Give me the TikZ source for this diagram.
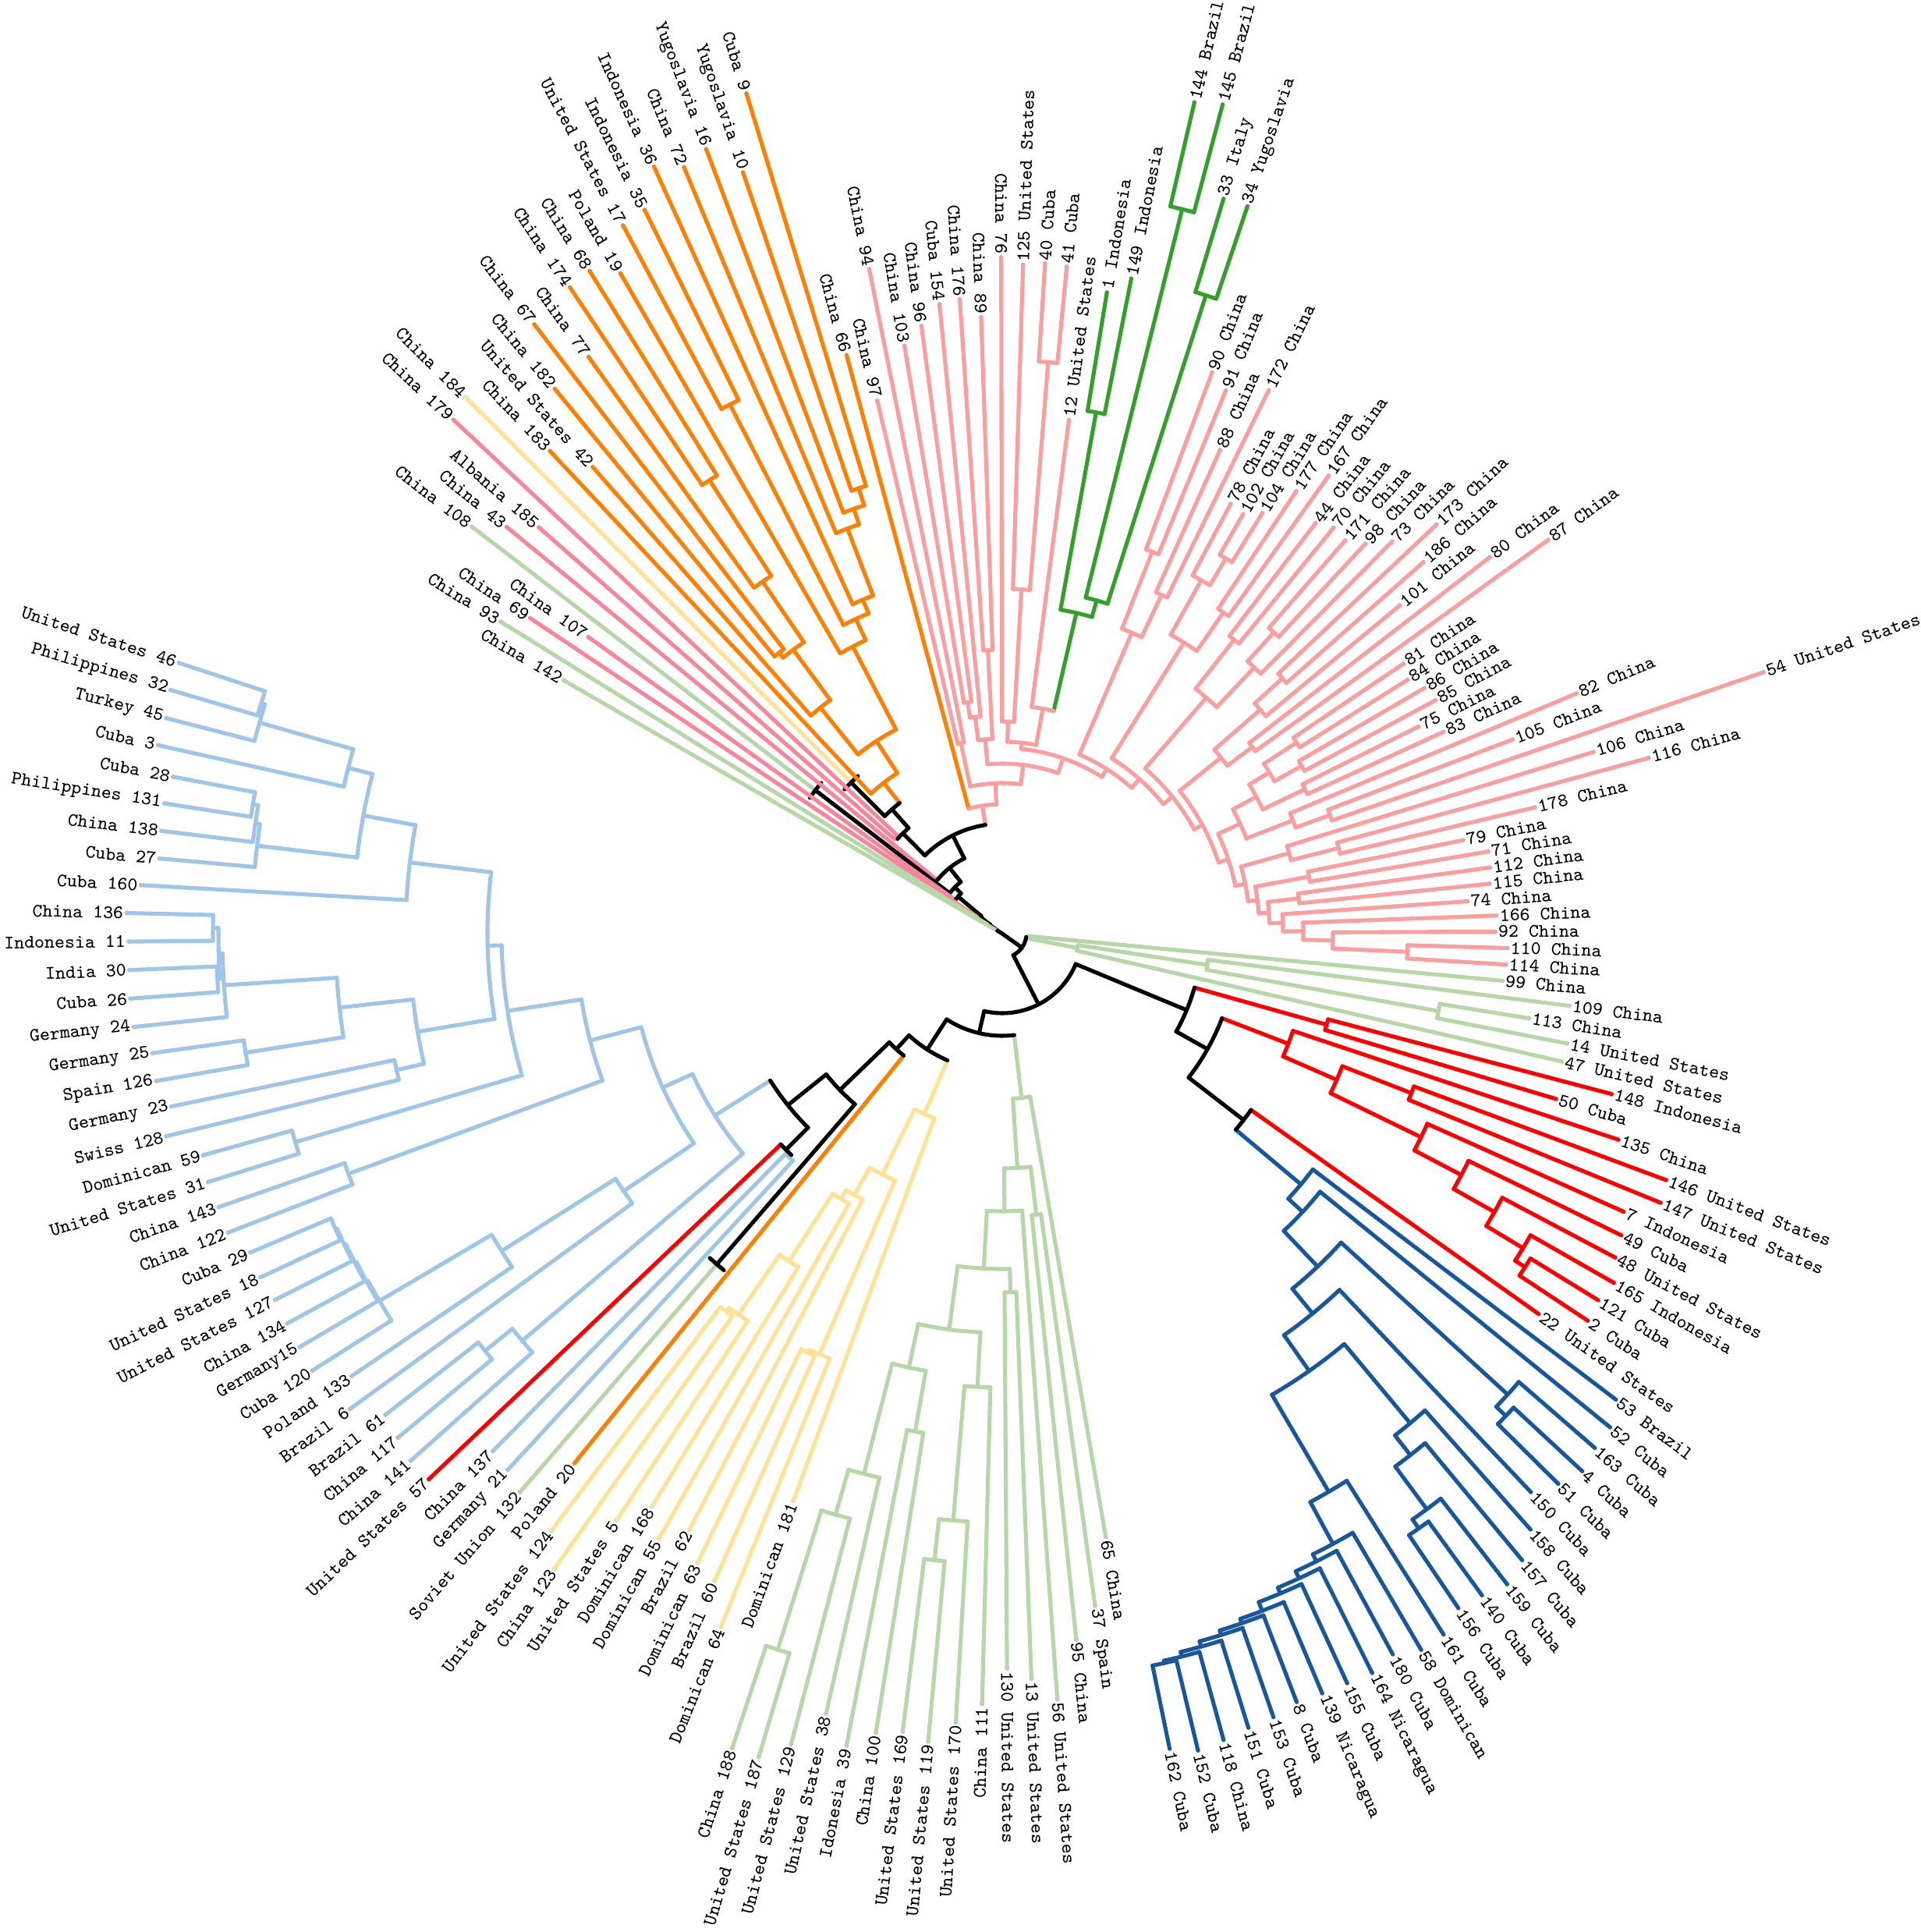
\documentclass[tikz,border=0pt]{standalone}
\usepackage{tikz}
\definecolor{lblue}{RGB}{159,197,232}
\definecolor{dblue}{RGB}{24,87,155}
\definecolor{lgreen}{RGB}{182,215,168}
\definecolor{dgreen}{RGB}{51,160,44}
\definecolor{lpink}{RGB}{251,158,158}
\definecolor{dpink}{RGB}{246,134,155}
\definecolor{lred}{RGB}{255,0,0}
\definecolor{lorange}{RGB}{255,127,0}
\definecolor{lyellow}{RGB}{255,226,150}
\tikzset{br/.style={line width=1.45pt,line cap=round},
  lbl/.style={font=\fontsize{6.95}{8}\selectfont\ttfamily,inner sep=0pt},
  tipdot/.style={fill=black!35}}

% leaf: index, tip radius (px), colour, label
\newcommand\lf[4]{%
  \pgfmathsetmacro\dgLA{161.8+(#1-1)*1.872}%
  \expandafter\xdef\csname AL#1\endcsname{\dgLA}%
  \expandafter\xdef\csname RL#1\endcsname{#2}%
  \expandafter\xdef\csname CL#1\endcsname{#3}%
  \pgfmathsetmacro\dgRT{#2/10}%
  \pgfmathsetmacro\dgRL{#2/10+0.35}%
  \pgfmathsetmacro\dgNA{mod(\dgLA,360)}%
  \pgfmathtruncatemacro\dgIL{and(\dgNA>90,\dgNA<270)}%
  \fill[tipdot] (\dgLA:\dgRT mm) circle (0.28mm);%
  \ifnum\dgIL=1
    \pgfmathsetmacro\dgRO{\dgNA-180}%
    \node[lbl,anchor=east,rotate=\dgRO] at (\dgLA:\dgRL mm) {#4};%
  \else
    \node[lbl,anchor=west,rotate=\dgNA] at (\dgLA:\dgRL mm) {#4};%
  \fi}
% leaf whose stem stays black up to a break radius
\newcommand\lfb[5]{%
  \lf{#1}{#2}{#3}{#4}%
  \pgfmathsetmacro\dgRB{#5/10}%
  \draw[br,draw=#3] (\dgLA:\dgRB mm) -- (\dgLA:\dgRT mm);%
  \pgfmathsetmacro\dgTA{\dgLA-687/#5}\pgfmathsetmacro\dgTB{\dgLA+687/#5}%
  \draw[br,black] (\dgTA:\dgRB mm) arc[start angle=\dgTA,end angle=\dgTB,radius=\dgRB mm];%
  \expandafter\xdef\csname RL#1\endcsname{#5}%
  \expandafter\xdef\csname CL#1\endcsname{black}}
% inner node: name, radius (px), child, child, colour
\newcommand\nd[5]{%
  \edef\dgA{\csname A#3\endcsname}\edef\dgB{\csname A#4\endcsname}%
  \edef\dgCA{\csname C#3\endcsname}\edef\dgCB{\csname C#4\endcsname}%
  \pgfmathsetmacro\dgRN{#2/10}%
  \pgfmathsetmacro\dgRX{\csname R#3\endcsname/10}%
  \pgfmathsetmacro\dgRY{\csname R#4\endcsname/10}%
  \pgfmathsetmacro\dgM{(\dgA+\dgB)/2}%
  \draw[br,draw=\dgCA] (\dgA:\dgRN mm) -- (\dgA:\dgRX mm);%
  \draw[br,draw=\dgCB] (\dgB:\dgRN mm) -- (\dgB:\dgRY mm);%
  \draw[br,draw=#5] (\dgA:\dgRN mm) arc[start angle=\dgA,end angle=\dgB,radius=\dgRN mm];%
  \expandafter\xdef\csname A#1\endcsname{\dgM}%
  \expandafter\xdef\csname R#1\endcsname{#2}%
  \expandafter\xdef\csname C#1\endcsname{#5}}
\newcommand\rootnd[2]{%
  \pgfmathsetmacro\dgRX{\csname R#1\endcsname/10}%
  \pgfmathsetmacro\dgRY{\csname R#2\endcsname/10}%
  \draw[br,black] (\csname A#1\endcsname:\dgRX mm) -- (0,0) -- (\csname A#2\endcsname:\dgRY mm);}

\begin{document}
\begin{tikzpicture}
%%%%% frame %%%%%
\fill[white] (-128.5mm,-128mm) rectangle (117.7mm,119.7mm);
\useasboundingbox (-128.5mm,-128mm) rectangle (117.7mm,119.7mm);

%%%%% leaves %%%%%
\lf{1}{1111}{lblue}{United States 46}
\lf{2}{1111}{lblue}{Philippines 32}
\lf{3}{1107}{lblue}{Turkey 45}
\lf{4}{1109}{lblue}{Cuba 3}
\lf{5}{1082}{lblue}{Cuba 28}
\lf{6}{1087}{lblue}{Philippines 131}
\lf{7}{1086}{lblue}{China 138}
\lf{8}{1085}{lblue}{Cuba 27}
\lf{9}{1106}{lblue}{Cuba 160}
\lf{10}{1123}{lblue}{China 136}
\lf{11}{1120}{lblue}{Indonesia 11}
\lf{12}{1120}{lblue}{India 30}
\lf{13}{1121}{lblue}{Cuba 26}
\lf{14}{1120}{lblue}{Germany 24}
\lf{15}{1100}{lblue}{Germany 25}
\lf{16}{1101}{lblue}{Spain 126}
\lf{17}{1088}{lblue}{Germany 23}
\lf{18}{1103}{lblue}{Swiss 128}
\lf{19}{1063}{lblue}{Dominican 59}
\lf{20}{1067}{lblue}{United States 31}
\lf{21}{1064}{lblue}{China 143}
\lf{22}{1064}{lblue}{China 122}
\lf{23}{1047}{lblue}{Cuba 29}
\lf{24}{1048}{lblue}{United States 18}
\lf{25}{1044}{lblue}{United States 127}
\lf{26}{1044}{lblue}{China 134}
\lf{27}{1045}{lblue}{Germany15}
\lf{28}{1047}{lblue}{Cuba 120}
\lf{29}{1009}{lblue}{Poland 133}
\lf{30}{1035}{lblue}{Brazil 6}
\lf{31}{1003}{lblue}{Brazil 61}
\lf{32}{1009}{lblue}{China 117}
\lf{33}{1016}{lblue}{China 141}
\lf{34}{1015}{lred}{United States 57}
\lf{35}{931}{lblue}{China 137}
\lf{36}{935}{lblue}{Germany 21}
\lfb{37}{946}{lgreen}{Soviet Union 132}{560}
\lf{38}{873}{lorange}{Poland 20}
\lf{39}{959}{lyellow}{United States 124}
\lf{40}{996}{lyellow}{China 123}
\lf{41}{900}{lyellow}{United States 5}
\lf{42}{861}{lyellow}{Dominican 168}
\lf{43}{892}{lyellow}{Dominican 55}
\lf{44}{863}{lyellow}{Brazil 62}
\lf{45}{896}{lyellow}{Dominican 63}
\lf{46}{908}{lyellow}{Brazil 60}
\lf{47}{959}{lyellow}{Dominican 64}
\lf{48}{775}{lyellow}{Dominican 181}
\lf{49}{1100}{lgreen}{China 188}
\lf{50}{1101}{lgreen}{United States 187}
\lf{51}{1074}{lgreen}{United States 129}
\lf{52}{1025}{lgreen}{United States 38}
\lf{53}{1060}{lgreen}{Idonesia 39}
\lf{54}{1037}{lgreen}{China 100}
\lf{55}{1031}{lgreen}{United States 169}
\lf{56}{1040}{lgreen}{United States 119}
\lf{57}{1013}{lgreen}{United States 170}
\lf{58}{988}{lgreen}{China 111}
\lf{59}{942}{lgreen}{130 United States}
\lf{60}{956}{lgreen}{13 United States}
\lf{61}{984}{lgreen}{56 United States}
\lf{62}{910}{lgreen}{95 China}
\lf{63}{870}{lgreen}{37 Spain}
\lf{64}{785}{lgreen}{65 China}
\lf{65}{1067}{dblue}{162 Cuba}
\lf{66}{1077}{dblue}{152 Cuba}
\lf{67}{1072}{dblue}{118 China}
\lf{68}{1066}{dblue}{151 Cuba}
\lf{69}{1063}{dblue}{153 Cuba}
\lf{70}{1055}{dblue}{8 Cuba}
\lf{71}{1057}{dblue}{139 Nicaragua}
\lf{72}{1058}{dblue}{155 Cuba}
\lf{73}{1060}{dblue}{164 Nicaragua}
\lf{74}{1051}{dblue}{180 Cuba}
\lf{75}{1064}{dblue}{58 Dominican}
\lf{76}{1062}{dblue}{161 Cuba}
\lf{77}{1044}{dblue}{156 Cuba}
\lf{78}{1048}{dblue}{140 Cuba}
\lf{79}{1056}{dblue}{159 Cuba}
\lf{80}{1044}{dblue}{157 Cuba}
\lf{81}{1021}{dblue}{158 Cuba}
\lf{82}{986}{dblue}{150 Cuba}
\lf{83}{1003}{dblue}{51 Cuba}
\lf{84}{1014}{dblue}{4 Cuba}
\lf{85}{1006}{dblue}{163 Cuba}
\lf{86}{1004}{dblue}{52 Cuba}
\lf{87}{988}{dblue}{53 Brazil}
\lf{88}{843}{lred}{22 United States}
\lf{89}{900}{lred}{2 Cuba}
\lf{90}{897}{lred}{121 Cuba}
\lf{91}{903}{lred}{165 Indonesia}
\lf{92}{889}{lred}{48 United States}
\lf{93}{883}{lred}{49 Cuba}
\lf{94}{873}{lred}{7 Indonesia}
\lf{95}{912}{lred}{147 United States}
\lf{96}{908}{lred}{146 United States}
\lf{97}{833}{lred}{135 China}
\lf{98}{741}{lred}{50 Cuba}
\lf{99}{808}{lred}{148 Indonesia}
\lf{100}{736}{lgreen}{47 United States}
\lf{101}{738}{lgreen}{14 United States}
\lf{102}{684}{lgreen}{113 China}
\lf{103}{733}{lgreen}{109 China}
\lf{104}{644}{lgreen}{99 China}
\lf{105}{647}{lpink}{114 China}
\lf{106}{648}{lpink}{110 China}
\lf{107}{632}{lpink}{92 China}
\lf{108}{634}{lpink}{166 China}
\lf{109}{598}{lpink}{74 China}
\lf{110}{628}{lpink}{115 China}
\lf{111}{631}{lpink}{112 China}
\lf{112}{632}{lpink}{71 China}
\lf{113}{603}{lpink}{79 China}
\lf{114}{702}{lpink}{178 China}
\lf{115}{859}{lpink}{116 China}
\lf{116}{793}{lpink}{106 China}
\lf{117}{1032}{lpink}{54 United States}
\lf{118}{700}{lpink}{105 China}
\lf{119}{798}{lpink}{82 China}
\lf{120}{622}{lpink}{83 China}
\lf{121}{596}{lpink}{75 China}
\lf{122}{631}{lpink}{85 China}
\lf{123}{626}{lpink}{86 China}
\lf{124}{613}{lpink}{84 China}
\lf{125}{620}{lpink}{81 China}
\lf{126}{863}{lpink}{87 China}
\lf{127}{790}{lpink}{80 China}
\lf{128}{661}{lpink}{101 China}
\lf{129}{720}{lpink}{186 China}
\lf{130}{765}{lpink}{173 China}
\lf{131}{709}{lpink}{73 China}
\lf{132}{683}{lpink}{98 China}
\lf{133}{669}{lpink}{171 China}
\lf{134}{672}{lpink}{70 China}
\lf{135}{662}{lpink}{44 China}
\lf{136}{721}{lpink}{167 China}
\lf{137}{681}{lpink}{177 China}
\lf{138}{634}{lpink}{104 China}
\lf{139}{620}{lpink}{102 China}
\lf{140}{624}{lpink}{78 China}
\lf{141}{776}{lpink}{172 China}
\lf{142}{680}{lpink}{88 China}
\lf{143}{753}{lpink}{91 China}
\lf{144}{768}{lpink}{90 China}
\lf{145}{984}{dgreen}{34 Yugoslavia}
\lf{146}{984}{dgreen}{33 Italy}
\lf{147}{1100}{dgreen}{145 Brazil}
\lf{148}{1094}{dgreen}{144 Brazil}
\lf{149}{856}{dgreen}{149 Indonesia}
\lf{150}{833}{dgreen}{1 Indonesia}
\lf{151}{664}{lpink}{12 United States}
\lf{152}{859}{lpink}{41 Cuba}
\lf{153}{861}{lpink}{40 Cuba}
\lf{154}{858}{lpink}{125 United States}
\lf{155}{867}{lpink}{China 76}
\lf{156}{791}{lpink}{China 89}
\lf{157}{815}{lpink}{China 176}
\lf{158}{811}{lpink}{Cuba 154}
\lf{159}{786}{lpink}{China 96}
\lf{160}{764}{lpink}{China 103}
\lf{161}{869}{lpink}{China 94}
\lf{162}{702}{lpink}{China 97}
\lf{163}{768}{lorange}{China 66}
\lf{164}{1126}{lorange}{Cuba 9}
\lf{165}{1031}{lorange}{Yugoslavia 10}
\lf{166}{1075}{lorange}{Yugoslavia 16}
\lf{167}{1064}{lorange}{China 72}
\lf{168}{1080}{lorange}{Indonesia 36}
\lf{169}{1035}{lorange}{Indonesia 35}
\lf{170}{1030}{lorange}{United States 17}
\lf{171}{978}{lorange}{Poland 19}
\lf{172}{1001}{lorange}{China 68}
\lf{173}{997}{lorange}{China 174}
\lf{174}{910}{lorange}{China 77}
\lf{175}{985}{lorange}{China 67}
\lf{176}{904}{lorange}{China 182}
\lf{177}{796}{lorange}{United States 42}
\lf{178}{848}{lorange}{China 183}
\lfb{179}{973}{lyellow}{China 184}{274}
\lf{180}{964}{dpink}{China 179}
\lf{181}{790}{dpink}{Albania 185}
\lf{182}{822}{dpink}{China 43}
\lfb{183}{857}{lgreen}{China 108}{302}
\lf{184}{653}{dpink}{China 107}
\lf{185}{728}{dpink}{China 69}
\lf{186}{757}{lgreen}{China 93}
\lf{187}{649}{lgreen}{China 142}

%%%%% light blue %%%%%
\nd{n1}{995}{L1}{L2}{lblue}
\nd{n2}{990}{n1}{L3}{lblue}
\nd{n3}{865}{n2}{L4}{lblue}
\nd{a5}{975}{L5}{L6}{lblue}
\nd{b5}{968}{a5}{L7}{lblue}
\nd{n4}{962}{b5}{L8}{lblue}
\nd{n5}{833}{n3}{n4}{lblue}
\nd{n6}{765}{n5}{L9}{lblue}
\nd{p10}{1012}{L10}{L11}{lblue}
\nd{q12}{1008}{L12}{L13}{lblue}
\nd{s10}{1005}{p10}{q12}{lblue}
\nd{g1}{1000}{s10}{L14}{lblue}
\nd{g2}{982}{L15}{L16}{lblue}
\nd{g3}{855}{g1}{g2}{lblue}
\nd{g4}{796}{L17}{L18}{lblue}
\nd{g5}{760}{g3}{g4}{lblue}
\nd{n7}{660}{n6}{g5}{lblue}
\nd{g6}{945}{L19}{L20}{lblue}
\nd{n8}{642}{n7}{g6}{lblue}
\nd{g7}{893}{L21}{L22}{lblue}
\nd{n9}{546}{n8}{g7}{lblue}
\nd{c1}{935}{L23}{L24}{lblue}
\nd{c2}{933}{c1}{L25}{lblue}
\nd{c3}{931}{c2}{L26}{lblue}
\nd{c4}{929}{c3}{L27}{lblue}
\nd{g8}{927}{c4}{L28}{lblue}
\nd{n10}{760}{g8}{L29}{lblue}
\nd{n11}{587}{n10}{L30}{lblue}
\nd{n12}{478}{n9}{n11}{lblue}
\nd{g9}{852}{L31}{L32}{lblue}
\nd{g10}{807}{g9}{L33}{lblue}
\nd{n13}{436}{n12}{g10}{lblue}
\nd{yb}{396}{L35}{L36}{lblue}
\nd{xb}{392}{L34}{yb}{black}
\nd{zb}{352}{n13}{xb}{black}
\nd{ra3}{289}{zb}{L37}{black}
\nd{ra2}{201}{ra3}{L38}{black}

%%%%% yellow %%%%%
\nd{y10}{600}{L39}{L40}{lyellow}
\nd{y9}{594}{y10}{L41}{lyellow}
\nd{y8}{501}{y9}{L42}{lyellow}
\nd{y6}{398}{y8}{L43}{lyellow}
\nd{y5}{592}{L45}{L46}{lyellow}
\nd{y4}{588}{y5}{L47}{lyellow}
\nd{y3}{385}{y6}{L44}{lyellow}
\nd{y1}{345}{y3}{y4}{lyellow}
\nd{y0}{252}{y1}{L48}{lyellow}
\nd{ra1}{177}{ra2}{y0}{black}

%%%%% green, bottom %%%%%
\nd{gb14}{962}{L49}{L50}{lgreen}
\nd{gb13}{775}{gb14}{L51}{lgreen}
\nd{gb11}{715}{gb13}{L52}{lgreen}
\nd{gb12}{648}{L53}{L54}{lgreen}
\nd{gb7}{569}{gb11}{gb12}{lgreen}
\nd{gb10}{808}{L55}{L56}{lgreen}
\nd{gb9}{755}{gb10}{L57}{lgreen}
\nd{gb8}{582}{gb9}{L58}{lgreen}
\nd{gb5}{512}{gb7}{gb8}{lgreen}
\nd{gb6}{460}{L59}{L60}{lgreen}
\nd{gb4}{430}{gb5}{gb6}{lgreen}
\nd{gb2}{356}{gb4}{L61}{lgreen}
\nd{gb3}{363}{L62}{L63}{lgreen}
\nd{gb1}{301}{gb2}{gb3}{lgreen}
\nd{gb}{212}{gb1}{L64}{lgreen}
\nd{ra}{131}{ra1}{gb}{black}

%%%%% dark blue %%%%%
\nd{d9}{958}{L65}{L66}{dblue}
\nd{d8}{955}{d9}{L67}{dblue}
\nd{d7}{949}{d8}{L68}{dblue}
\nd{d6}{942}{d7}{L69}{dblue}
\nd{d5}{936}{d6}{L70}{dblue}
\nd{d4}{930}{d5}{L71}{dblue}
\nd{d3}{918}{d4}{L72}{dblue}
\nd{d2}{910}{d3}{L73}{dblue}
\nd{d1}{900}{d2}{L74}{dblue}
\nd{bn12}{890}{d1}{L75}{dblue}
\nd{bn10}{829}{bn12}{L76}{dblue}
\nd{bn9d}{931}{L77}{L78}{dblue}
\nd{bn9c}{917}{bn9d}{L79}{dblue}
\nd{bn9b}{849}{bn9c}{L80}{dblue}
\nd{bn9}{817}{bn9b}{L81}{dblue}
\nd{bn8}{685}{bn10}{bn9}{dblue}
\nd{bn6}{629}{bn8}{L82}{dblue}
\nd{bn5b}{894}{L83}{L84}{dblue}
\nd{bn5}{877}{bn5b}{L85}{dblue}
\nd{bn4}{588}{bn6}{bn5}{dblue}
\nd{bn2}{525}{bn4}{L86}{dblue}
\nd{bn1}{500}{bn2}{L87}{dblue}

%%%%% red %%%%%
\nd{re}{391}{bn1}{L88}{black}
\nd{rh}{795}{L89}{L90}{lred}
\nd{rg}{780}{rh}{L91}{lred}
\nd{rf}{725}{rg}{L92}{lred}
\nd{ree}{665}{rf}{L93}{lred}
\nd{rd}{597}{ree}{L94}{lred}
\nd{rc}{563}{L95}{L96}{lred}
\nd{rb}{468}{rd}{rc}{lred}
\nd{redb}{393}{rb}{L97}{lred}
\nd{rcc}{302}{re}{redb}{black}
\nd{raa}{432}{L98}{L99}{lred}
\nd{rbb}{256}{rcc}{raa}{black}
\nd{r1}{102}{ra}{rbb}{black}

%%%%% green, right %%%%%
\nd{gj}{568}{L101}{L102}{lgreen}
\nd{gk}{266}{gj}{L103}{lgreen}
\nd{g1r}{98}{L100}{gk}{lgreen}
\nd{gr}{34}{g1r}{L104}{lgreen}
\nd{r0}{31}{r1}{gr}{black}

%%%%% pink, right %%%%%
\nd{j1}{520}{L105}{L106}{lpink}
\nd{j2}{424}{j1}{L107}{lpink}
\nd{j3}{386}{j2}{L108}{lpink}
\nd{j4}{360}{j3}{L109}{lpink}
\nd{k1}{383}{L110}{L111}{lpink}
\nd{j5}{343}{j4}{k1}{lpink}
\nd{k2}{400}{L112}{L113}{lpink}
\nd{j6}{330}{j5}{k2}{lpink}
\nd{k3}{445}{L114}{L115}{lpink}
\nd{k4}{382}{k3}{L116}{lpink}
\nd{j7}{318}{j6}{k4}{lpink}
\nd{m1}{447}{L117}{L118}{lpink}
\nd{m2}{400}{m1}{L119}{lpink}
\nd{m3}{430}{L120}{L121}{lpink}
\nd{m4}{440}{L122}{L123}{lpink}
\nd{m5}{450}{L124}{L125}{lpink}
\nd{m6}{400}{m4}{m5}{lpink}
\nd{m7}{370}{m3}{m6}{lpink}
\nd{m8}{336}{m2}{m7}{lpink}
\nd{x4}{305}{j7}{m8}{lpink}
\nd{u8}{400}{L126}{L127}{lpink}
\nd{u3}{486}{L129}{L130}{lpink}
\nd{u4}{438}{L128}{u3}{lpink}
\nd{bk4}{360}{u8}{u4}{lpink}
\nd{x3}{292}{x4}{bk4}{lpink}
\nd{u5}{520}{L132}{L133}{lpink}
\nd{u6}{470}{L131}{u5}{lpink}
\nd{u2}{480}{L134}{L135}{lpink}
\nd{bk3}{400}{u6}{u2}{lpink}
\nd{x2}{280}{x3}{bk3}{lpink}
\nd{u11}{500}{L136}{L137}{lpink}
\nd{u12}{560}{L138}{L139}{lpink}
\nd{u13}{520}{u12}{L140}{lpink}
\nd{bk2}{440}{u11}{u13}{lpink}
\nd{x1}{265}{x2}{bk2}{lpink}
\nd{u15}{480}{L141}{L142}{lpink}
\nd{u1}{526}{L143}{L144}{lpink}
\nd{bk1}{420}{u15}{u1}{lpink}
\nd{pr}{250}{x1}{bk1}{lpink}

%%%%% dark green, pink top %%%%%
\nd{gd3}{957}{L147}{L148}{dgreen}
\nd{gd4}{859}{L145}{L146}{dgreen}
\nd{gd2}{444}{gd4}{gd3}{dgreen}
\nd{gd1}{679}{L149}{L150}{dgreen}
\nd{gdr}{422}{gd2}{gd1}{dgreen}
\nd{q}{293}{gdr}{L151}{lpink}
\nd{pa}{735}{L152}{L153}{lpink}
\nd{pb}{442}{pa}{L154}{lpink}
\nd{pg}{272}{pb}{L155}{lpink}
\nd{ph}{246}{q}{pg}{lpink}
\nd{px}{238}{pr}{ph}{lpink}
\nd{pta}{364}{L156}{L157}{lpink}
\nd{pk2}{300}{L159}{L160}{lpink}
\nd{pk1}{280}{L158}{pk2}{lpink}
\nd{pk}{250}{pk1}{pta}{lpink}
\nd{p4}{218}{px}{pk}{lpink}
\nd{p3}{250}{L161}{L162}{lpink}
\nd{p2}{193}{p4}{p3}{lpink}
\nd{pp}{166}{L163}{p2}{lpink}

%%%%% orange %%%%%
\nd{o1}{600}{L164}{L165}{lorange}
\nd{o2}{577}{o1}{L166}{lorange}
\nd{o3}{556}{o2}{L167}{lorange}
\nd{ox}{464}{o3}{L168}{lorange}
\nd{o4}{763}{L169}{L170}{lorange}
\nd{oy}{445}{ox}{o4}{lorange}
\nd{oc}{415}{oy}{L171}{lorange}
\nd{o5}{692}{L172}{L173}{lorange}
\nd{o6}{546}{o5}{L174}{lorange}
\nd{oe}{460}{L175}{L176}{lorange}
\nd{od}{452}{o6}{oe}{lorange}
\nd{o9}{372}{od}{L177}{lorange}
\nd{o10}{295}{oc}{o9}{lorange}
\nd{o11}{246}{o10}{L178}{lorange}

%%%%% trunk %%%%%
\nd{b3}{213}{o11}{L179}{black}
\nd{ypk}{184}{L180}{L181}{dpink}
\nd{b2}{181}{b3}{ypk}{black}
\nd{b1}{141}{pp}{b2}{black}
\nd{b0}{108}{b1}{L182}{black}
\nd{bm1}{85}{b0}{L183}{black}
\nd{t4}{74}{bm1}{L184}{black}
\nd{t3}{35}{t4}{L185}{black}
\nd{t2}{19}{t3}{L186}{black}
\nd{t1}{7}{t2}{L187}{black}
\rootnd{r0}{t1}
\end{tikzpicture}
\end{document}
